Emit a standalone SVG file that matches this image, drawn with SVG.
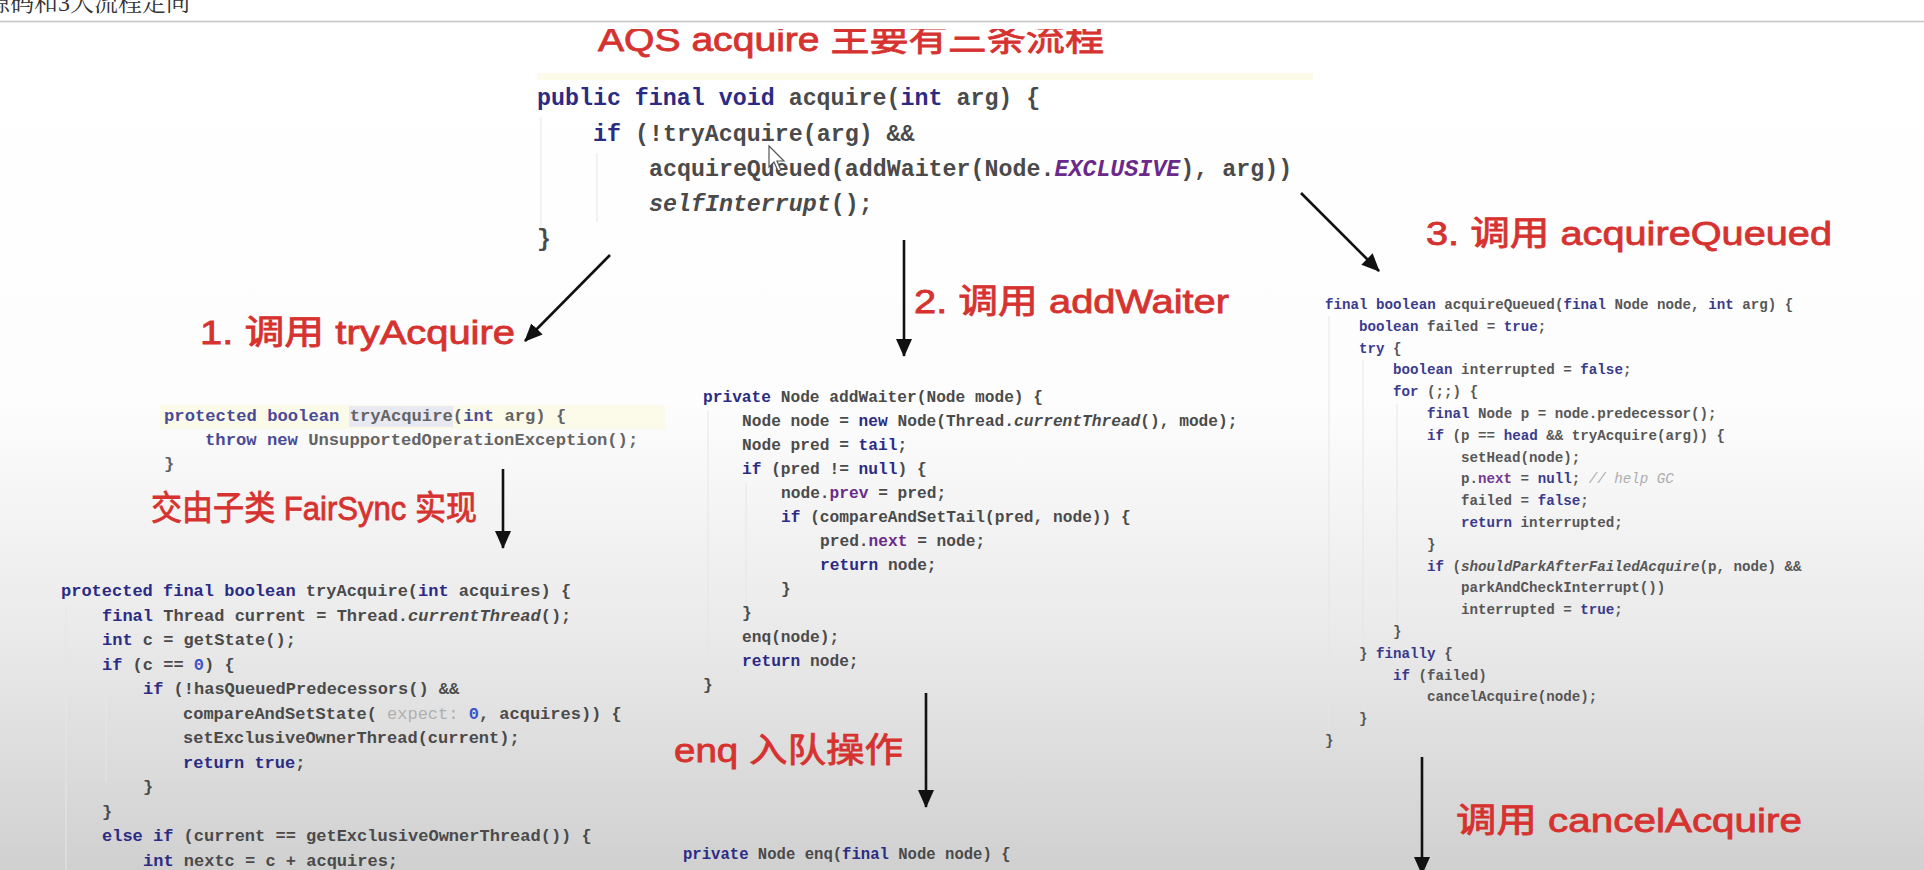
<svg xmlns="http://www.w3.org/2000/svg" width="1924" height="870" viewBox="0 0 1924 870">
<defs>
<linearGradient id="bg" x1="0" y1="21" x2="0" y2="870" gradientUnits="userSpaceOnUse">
<stop offset="0" stop-color="#ffffff"/>
<stop offset="0.45" stop-color="#fdfdfd"/>
<stop offset="0.72" stop-color="#eaeaea"/>
<stop offset="1" stop-color="#d0d0d0"/>
</linearGradient>
<clipPath id="titleClip"><rect x="0" y="29" width="1924" height="60"/></clipPath>
<marker id="ah" markerUnits="userSpaceOnUse" markerWidth="18" markerHeight="16" refX="17" refY="8" orient="auto">
<path d="M0,0 L18,8 L0,16 z" fill="#111"/>
</marker>
<style>
.c{font-family:"Liberation Mono",monospace;font-weight:bold;fill:#4a4a4a}
.k{fill:#2b2b85}
.f{fill:#6a2a8a}
.i{font-style:italic}
.n{fill:#3a55c8}
.h{fill:#b0b0b0;font-weight:normal}
.cm{fill:#a8a8a8;font-style:italic;font-weight:normal}
.lbl{font-family:"Liberation Sans","Noto Sans CJK SC",sans-serif;font-size:34px;fill:#d6322f;stroke:#d6322f;stroke-width:0.8}
.guide{stroke:#e6e6e6;stroke-width:1}
.conn{stroke:#111;stroke-width:2.6;fill:none;marker-end:url(#ah)}
</style>
</defs>

<rect x="0" y="0" width="1924" height="870" fill="url(#bg)"/>

<g id="header">
<rect x="0" y="0" width="1924" height="21" fill="#ffffff"/>
<line x1="0" y1="21.5" x2="1924" y2="21.5" stroke="#c4c4c4" stroke-width="1.5"/>
<text x="-14" y="11" font-family="Liberation Serif,'Noto Serif CJK SC','Noto Sans CJK SC',serif" font-size="24" fill="#333">源码和3大流程走向</text>
</g>

<g id="title" clip-path="url(#titleClip)">
<text class="lbl" x="598" y="51" textLength="506" lengthAdjust="spacingAndGlyphs">AQS acquire 主要有三条流程</text>
</g>

<g id="acquire-code">
<rect x="537" y="73" width="776" height="7" fill="#fcfbe9"/>
<line class="guide" x1="541" y1="117" x2="541" y2="228"/>
<line class="guide" x1="597" y1="153" x2="597" y2="222"/>
<g class="c" font-size="23.3">
<text x="537" y="105"><tspan class="k">public final void</tspan> acquire(<tspan class="k">int</tspan> arg) {</text>
<text x="593" y="140.5"><tspan class="k">if</tspan> (!tryAcquire(arg) &amp;&amp;</text>
<text x="649" y="176">acquireQueued(addWaiter(Node.<tspan class="f i">EXCLUSIVE</tspan>), arg))</text>
<text x="649" y="211"><tspan class="i">selfInterrupt</tspan>();</text>
<text x="537" y="246">}</text>
</g>
<path d="M769,146 L769,167 L774,162 L778,171 L781,170 L777,161 L784,161 Z" fill="#fff" stroke="#555" stroke-width="1.2"/>
</g>

<g id="label-tryAcquire"><text class="lbl" x="200" y="344" textLength="315" lengthAdjust="spacingAndGlyphs">1. 调用 tryAcquire</text></g>
<g id="label-addWaiter"><text class="lbl" x="914" y="313" textLength="315" lengthAdjust="spacingAndGlyphs">2. 调用 addWaiter</text></g>
<g id="label-acquireQueued"><text class="lbl" x="1426" y="245" textLength="406" lengthAdjust="spacingAndGlyphs">3. 调用 acquireQueued</text></g>
<g id="label-fairsync"><text class="lbl" x="151" y="520" textLength="326" lengthAdjust="spacingAndGlyphs">交由子类 FairSync 实现</text></g>
<g id="label-enq"><text class="lbl" x="674" y="762" textLength="229" lengthAdjust="spacingAndGlyphs">enq 入队操作</text></g>
<g id="label-cancel"><text class="lbl" x="1456" y="832" textLength="346" lengthAdjust="spacingAndGlyphs">调用 cancelAcquire</text></g>

<g id="tryAcquire-abstract" opacity="0.85">
<rect x="160" y="405" width="505" height="24" fill="#fcfae6"/>
<rect x="349" y="406" width="104" height="21" fill="#e6e6f0"/>
<g class="c" font-size="17.2">
<text x="164" y="421"><tspan class="k">protected boolean</tspan> tryAcquire(<tspan class="k">int</tspan> arg) {</text>
<text x="205" y="445"><tspan class="k">throw new</tspan> UnsupportedOperationException();</text>
<text x="164" y="469">}</text>
</g>
</g>

<g id="tryAcquire-fairsync">
<line class="guide" x1="66" y1="606" x2="66" y2="870"/>
<line class="guide" x1="106" y1="680" x2="106" y2="782"/>
<g class="c" font-size="17">
<text x="61" y="596"><tspan class="k">protected final boolean</tspan> tryAcquire(<tspan class="k">int</tspan> acquires) {</text>
<text x="102" y="620.5"><tspan class="k">final</tspan> Thread current = Thread.<tspan class="i">currentThread</tspan>();</text>
<text x="102" y="645"><tspan class="k">int</tspan> c = getState();</text>
<text x="102" y="669.5"><tspan class="k">if</tspan> (c == <tspan class="n">0</tspan>) {</text>
<text x="143" y="694"><tspan class="k">if</tspan> (!hasQueuedPredecessors() &amp;&amp;</text>
<text x="183" y="718.5">compareAndSetState( <tspan class="h">expect:</tspan> <tspan class="n">0</tspan>, acquires)) {</text>
<text x="183" y="743">setExclusiveOwnerThread(current);</text>
<text x="183" y="767.5"><tspan class="k">return true</tspan>;</text>
<text x="143" y="792">}</text>
<text x="102" y="816.5">}</text>
<text x="102" y="841"><tspan class="k">else if</tspan> (current == getExclusiveOwnerThread()) {</text>
<text x="143" y="865.5"><tspan class="k">int</tspan> nextc = c + acquires;</text>
</g>
</g>

<g id="addWaiter-code">
<line class="guide" x1="708" y1="410" x2="708" y2="680"/>
<line class="guide" x1="746" y1="483" x2="746" y2="610"/>
<g class="c" font-size="16.2">
<text x="703" y="402"><tspan class="k">private</tspan> Node addWaiter(Node mode) {</text>
<text x="742" y="426">Node node = <tspan class="k">new</tspan> Node(Thread.<tspan class="i">currentThread</tspan>(), mode);</text>
<text x="742" y="450">Node pred = <tspan class="k">tail</tspan>;</text>
<text x="742" y="474"><tspan class="k">if</tspan> (pred != <tspan class="k">null</tspan>) {</text>
<text x="781" y="498">node.<tspan class="f">prev</tspan> = pred;</text>
<text x="781" y="522"><tspan class="k">if</tspan> (compareAndSetTail(pred, node)) {</text>
<text x="820" y="546">pred.<tspan class="f">next</tspan> = node;</text>
<text x="820" y="570"><tspan class="k">return</tspan> node;</text>
<text x="781" y="594">}</text>
<text x="742" y="618">}</text>
<text x="742" y="642">enq(node);</text>
<text x="742" y="666"><tspan class="k">return</tspan> node;</text>
<text x="703" y="690">}</text>
</g>
</g>

<g id="enq-code">
<g class="c" font-size="15.6">
<text x="683" y="859"><tspan class="k">private</tspan> Node enq(<tspan class="k">final</tspan> Node node) {</text>
</g>
</g>

<g id="acquireQueued-code" opacity="0.92">
<line class="guide" x1="1329" y1="316" x2="1329" y2="740"/>
<line class="guide" x1="1363" y1="360" x2="1363" y2="720"/>
<line class="guide" x1="1397" y1="404" x2="1397" y2="630"/>
<g class="c" font-size="14.2">
<text x="1325" y="309"><tspan class="k">final boolean</tspan> acquireQueued(<tspan class="k">final</tspan> Node node, <tspan class="k">int</tspan> arg) {</text>
<text x="1359" y="330.8"><tspan class="k">boolean</tspan> failed = <tspan class="k">true</tspan>;</text>
<text x="1359" y="352.6"><tspan class="k">try</tspan> {</text>
<text x="1393" y="374.4"><tspan class="k">boolean</tspan> interrupted = <tspan class="k">false</tspan>;</text>
<text x="1393" y="396.2"><tspan class="k">for</tspan> (;;) {</text>
<text x="1427" y="418"><tspan class="k">final</tspan> Node p = node.predecessor();</text>
<text x="1427" y="439.8"><tspan class="k">if</tspan> (p == <tspan class="k">head</tspan> &amp;&amp; tryAcquire(arg)) {</text>
<text x="1461" y="461.6">setHead(node);</text>
<text x="1461" y="483.4">p.<tspan class="f">next</tspan> = <tspan class="k">null</tspan>; <tspan class="cm">// help GC</tspan></text>
<text x="1461" y="505.2">failed = <tspan class="k">false</tspan>;</text>
<text x="1461" y="527"><tspan class="k">return</tspan> interrupted;</text>
<text x="1427" y="548.8">}</text>
<text x="1427" y="570.6"><tspan class="k">if</tspan> (<tspan class="i">shouldParkAfterFailedAcquire</tspan>(p, node) &amp;&amp;</text>
<text x="1461" y="592.4">parkAndCheckInterrupt())</text>
<text x="1461" y="614.2">interrupted = <tspan class="k">true</tspan>;</text>
<text x="1393" y="636">}</text>
<text x="1359" y="657.8">} <tspan class="k">finally</tspan> {</text>
<text x="1393" y="679.6"><tspan class="k">if</tspan> (failed)</text>
<text x="1427" y="701.4">cancelAcquire(node);</text>
<text x="1359" y="723.2">}</text>
<text x="1325" y="745">}</text>
</g>
</g>

<g id="connectors">
<line class="conn" x1="610" y1="255" x2="525" y2="341"/>
<line class="conn" x1="904" y1="240" x2="904" y2="356"/>
<line class="conn" x1="1301" y1="193" x2="1379" y2="271"/>
<line class="conn" x1="503" y1="469" x2="503" y2="548"/>
<line class="conn" x1="926" y1="693" x2="926" y2="807"/>
<line class="conn" x1="1422" y1="757" x2="1422" y2="874"/>
</g>
</svg>
